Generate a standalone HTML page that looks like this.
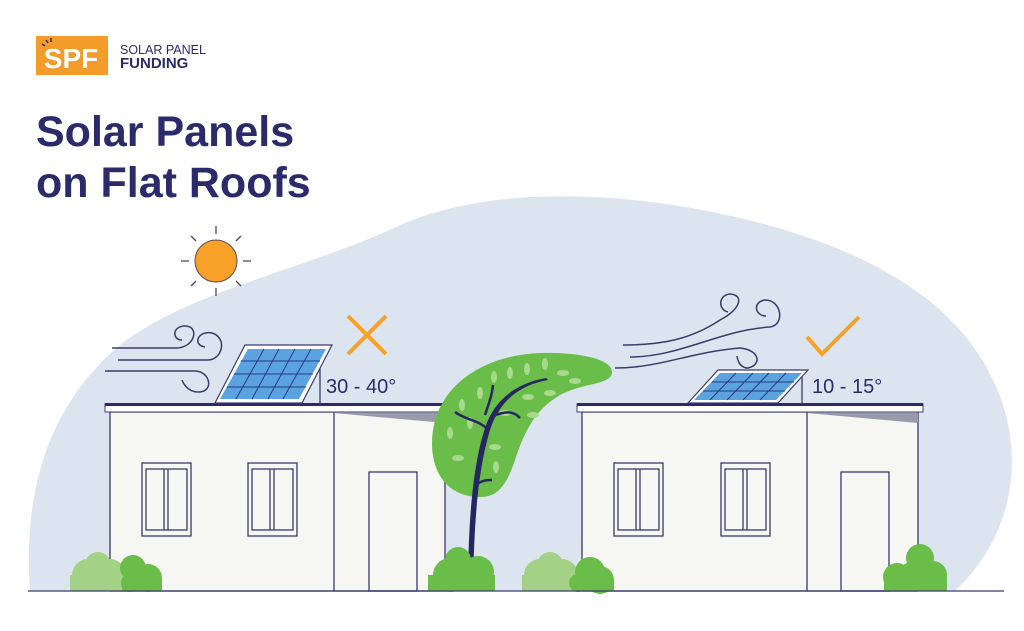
<!DOCTYPE html>
<html><head><meta charset="utf-8"><style>
html,body{margin:0;padding:0;background:#fff;width:1024px;height:631px;overflow:hidden}
svg{display:block}
</style></head><body>
<svg width="1024" height="631" viewBox="0 0 1024 631" xmlns="http://www.w3.org/2000/svg" font-family="Liberation Sans, sans-serif">
<rect width="1024" height="631" fill="#fff"/>
<!-- blob -->
<path d="M30,591 C22,480 55,400 120,345 C190,290 320,265 400,225 C470,195 560,190 660,203 C790,222 900,262 960,330 C1030,410 1030,520 955,591 Z" fill="#dce5ef"/>
<!-- logo -->
<rect x="36" y="36" width="72" height="39" fill="#f39c2a"/>
<text x="71" y="68" text-anchor="middle" font-size="28" font-weight="bold" fill="#fff">SPF</text>
<g stroke="#2b2a6b" stroke-width="1.5"><line x1="42" y1="44" x2="45" y2="46"/><line x1="46" y1="40" x2="48" y2="43"/><line x1="51" y1="38" x2="51" y2="42"/></g>
<text x="120" y="54" font-size="12.5" fill="#2b2a6b">SOLAR PANEL</text>
<text x="120" y="68" font-size="15" font-weight="bold" fill="#2b2a6b">FUNDING</text>
<!-- title -->
<text x="36" y="146" font-size="43" font-weight="bold" fill="#2b2a6b">Solar Panels</text>
<text x="36" y="197" font-size="43" font-weight="bold" fill="#2b2a6b">on Flat Roofs</text>
<!-- sun -->
<circle cx="216" cy="261" r="21" fill="#f7a128" stroke="#5a4a5a" stroke-width="1"/>
<g stroke="#4a4a6b" stroke-width="1.3">
<line x1="216" y1="226" x2="216" y2="234"/><line x1="216" y1="288" x2="216" y2="296"/>
<line x1="181" y1="261" x2="189" y2="261"/><line x1="243" y1="261" x2="251" y2="261"/>
<line x1="191" y1="236" x2="196" y2="241"/><line x1="236" y1="281" x2="241" y2="286"/>
<line x1="241" y1="236" x2="236" y2="241"/><line x1="196" y1="281" x2="191" y2="286"/>
</g>
<!-- wind left -->
<g fill="none" stroke="#3b3b6b" stroke-width="1.5">
<path d="M112,348 H176 C195,348 200,326 185,326 C172,326 172,340 182,340"/>
<path d="M118,360 H208 C222,360 228,338 212,333 C198,330 192,345 205,347"/>
<path d="M105,371 H195 C210,371 215,392 198,392 C186,392 182,380 182,380"/>
</g>
<!-- wind right -->
<g fill="none" stroke="#3b3b6b" stroke-width="1.5">
<path d="M623,345 C660,345 690,340 720,320 C740,310 745,295 730,294 C718,295 718,310 728,312"/>
<path d="M630,357 C680,357 720,330 770,327 C785,325 782,300 765,300 C752,302 755,316 766,316"/>
<path d="M615,368 C660,368 690,352 740,348 C760,350 762,365 748,368 C738,368 737,356 737,356"/>
</g>
<!-- X and check -->
<g stroke="#f7a128" stroke-width="4" fill="none">
<line x1="348" y1="316" x2="386" y2="354"/><line x1="386" y1="316" x2="348" y2="354"/>
<polyline points="807,337 822,354 859,317"/>
</g>
<!-- left house -->
<rect x="110" y="412" width="335" height="179" fill="#f6f6f2" stroke="#3b3b6b" stroke-width="1.3"/>
<line x1="334" y1="412" x2="334" y2="591" stroke="#3b3b6b" stroke-width="1.3"/>
<polygon points="334,413 445,413 445,423" fill="#9a9aad"/>
<rect x="105" y="404" width="343" height="8" fill="#fff" stroke="#3b3b6b" stroke-width="1"/>
<rect x="105" y="403" width="343" height="3" fill="#2b2a6b"/>
<g fill="none" stroke="#3b3b6b" stroke-width="1.3">
<rect x="142" y="463" width="49" height="73"/><rect x="146" y="469" width="41" height="61"/><line x1="164" y1="469" x2="164" y2="530"/><line x1="168" y1="469" x2="168" y2="530"/>
<rect x="248" y="463" width="49" height="73"/><rect x="252" y="469" width="41" height="61"/><line x1="270" y1="469" x2="270" y2="530"/><line x1="274" y1="469" x2="274" y2="530"/>
<rect x="369" y="472" width="48" height="119"/>
</g>
<!-- right house -->
<rect x="582" y="412" width="336" height="179" fill="#f6f6f2" stroke="#3b3b6b" stroke-width="1.3"/>
<line x1="807" y1="412" x2="807" y2="591" stroke="#3b3b6b" stroke-width="1.3"/>
<polygon points="807,413 918,413 918,423" fill="#9a9aad"/>
<rect x="577" y="404" width="346" height="8" fill="#fff" stroke="#3b3b6b" stroke-width="1"/>
<rect x="577" y="403" width="346" height="3" fill="#2b2a6b"/>
<g fill="none" stroke="#3b3b6b" stroke-width="1.3">
<rect x="614" y="463" width="49" height="73"/><rect x="618" y="469" width="41" height="61"/><line x1="636" y1="469" x2="636" y2="530"/><line x1="640" y1="469" x2="640" y2="530"/>
<rect x="721" y="463" width="49" height="73"/><rect x="725" y="469" width="41" height="61"/><line x1="743" y1="469" x2="743" y2="530"/><line x1="747" y1="469" x2="747" y2="530"/>
<rect x="841" y="472" width="48" height="119"/>
</g>
<!-- left panel -->
<line x1="320" y1="346" x2="320" y2="404" stroke="#3b3b6b" stroke-width="1.3"/>
<polygon points="215,403 302,403 332,345 245,345" fill="#fff" stroke="#3b3b6b" stroke-width="1.2"/>
<polygon points="220,399 299,399 326,349 248,349" fill="#5ba3e0"/>
<g stroke="#2b3a7b" stroke-width="1">
<line x1="241" y1="361" x2="320" y2="361"/><line x1="234" y1="374" x2="313" y2="374"/><line x1="227" y1="387" x2="306" y2="387"/>
<line x1="264" y1="349" x2="236" y2="399"/><line x1="279" y1="349" x2="252" y2="399"/><line x1="295" y1="349" x2="268" y2="399"/><line x1="311" y1="349" x2="283" y2="399"/>
</g>
<text x="326" y="393" font-size="20" fill="#2b2a6b">30 - 40°</text>
<!-- right panel -->
<line x1="802" y1="370" x2="802" y2="404" stroke="#3b3b6b" stroke-width="1.3"/>
<polygon points="688,403 778,403 808,370 718,370" fill="#fff" stroke="#3b3b6b" stroke-width="1.2"/>
<polygon points="694,400 776,400 802,373 720,373" fill="#5ba3e0"/>
<g stroke="#2b3a7b" stroke-width="1">
<line x1="712" y1="382" x2="794" y2="382"/><line x1="703" y1="391" x2="785" y2="391"/>
<line x1="736" y1="373" x2="710" y2="400"/><line x1="753" y1="373" x2="727" y2="400"/><line x1="769" y1="373" x2="743" y2="400"/><line x1="786" y1="373" x2="760" y2="400"/>
</g>
<text x="812" y="393" font-size="20" fill="#2b2a6b">10 - 15°</text>
<!-- tree canopy -->
<path d="M480,497 C440,497 425,460 435,420 C448,378 490,355 540,353 C575,352 612,358 612,372 C612,385 585,382 560,395 C535,410 525,430 515,460 C505,490 495,497 480,497 Z" fill="#6bbd4a"/>
<g fill="#a8d98c">
<ellipse cx="480" cy="393" rx="3" ry="6"/><ellipse cx="462" cy="405" rx="3" ry="6"/><ellipse cx="470" cy="423" rx="3" ry="6"/><ellipse cx="450" cy="433" rx="3" ry="6"/><ellipse cx="458" cy="458" rx="6" ry="3"/><ellipse cx="495" cy="447" rx="6" ry="3"/><ellipse cx="494" cy="377" rx="3" ry="6"/><ellipse cx="510" cy="373" rx="3" ry="6"/><ellipse cx="527" cy="369" rx="3" ry="6"/><ellipse cx="545" cy="364" rx="3" ry="6"/><ellipse cx="563" cy="373" rx="6" ry="3"/><ellipse cx="575" cy="381" rx="6" ry="3"/><ellipse cx="550" cy="393" rx="6" ry="3"/><ellipse cx="528" cy="397" rx="6" ry="3"/><ellipse cx="533" cy="415" rx="6" ry="3"/><ellipse cx="505" cy="413" rx="6" ry="3"/><ellipse cx="496" cy="467" rx="3" ry="6"/>
</g>
<!-- trunk -->
<path d="M468,591 L473,591 C474,520 478,470 490,430 C500,400 520,385 548,380 L546,378 C518,383 495,398 485,428 C473,465 468,520 468,591 Z" fill="#262660"/>
<g stroke="#262660" stroke-width="2.5" fill="none">
<path d="M488,430 C480,420 465,420 455,412"/><path d="M485,415 C490,400 492,395 493,385"/><path d="M495,415 C505,412 513,410 520,418"/><path d="M476,485 C482,480 488,480 492,480"/>
</g>
<!-- bushes -->
<g fill="#a3d287">
<circle cx="88" cy="575" r="16"/><circle cx="98" cy="565" r="13"/><circle cx="110" cy="575" r="16"/><rect x="70" y="575" width="57" height="16"/>
<circle cx="540" cy="575" r="16"/><circle cx="550" cy="565" r="13"/><circle cx="562" cy="575" r="16"/><rect x="522" y="575" width="57" height="16"/>
</g>
<g fill="#6bbd4a">
<circle cx="133" cy="568" r="13"/><circle cx="148" cy="578" r="14"/><circle cx="130" cy="583" r="9"/><rect x="122" y="578" width="40" height="13"/>
<circle cx="450" cy="575" r="17"/><circle cx="458" cy="560" r="13"/><circle cx="478" cy="572" r="16"/><rect x="428" y="575" width="67" height="16"/>
<circle cx="590" cy="572" r="15"/><circle cx="600" cy="580" r="14"/><circle cx="578" cy="583" r="9"/><rect x="574" y="580" width="40" height="11"/>
<circle cx="897" cy="577" r="14"/><circle cx="920" cy="558" r="14"/><circle cx="933" cy="575" r="14"/><circle cx="912" cy="576" r="14"/><rect x="884" y="577" width="63" height="14"/>
</g>
<!-- ground -->
<line x1="28" y1="591" x2="1004" y2="591" stroke="#3b3b6b" stroke-width="1.3"/>
</svg>
</body></html>
